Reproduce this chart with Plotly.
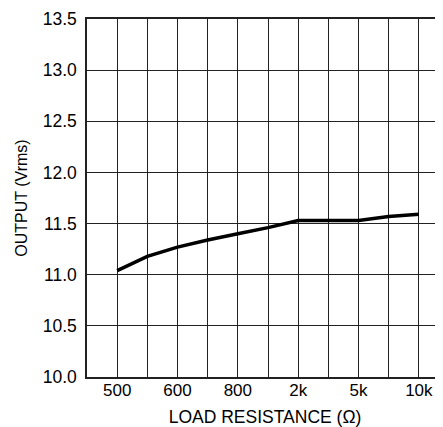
import plotly.graph_objects as go

# Data (grid positions 1..11, labels on every other grid line)
x_index = [1, 2, 3, 4, 5, 6, 7, 8, 9, 10, 11]
output_vrms = [11.04, 11.18, 11.27, 11.34, 11.40, 11.46, 11.53, 11.53, 11.53, 11.57, 11.59]
tick_positions = [0, 1, 2, 3, 4, 5, 6, 7, 8, 9, 10, 11]
tick_labels = ["", "500", "", "600", "", "800", "", "2k", "", "5k", "", "10k"]
y_ticks = [10.0, 10.5, 11.0, 11.5, 12.0, 12.5, 13.0, 13.5]

font_family = "Liberation Sans, Arial, sans-serif"

fig = go.Figure()
fig.add_trace(go.Scatter(
    x=x_index, y=output_vrms, mode="lines",
    line=dict(color="black", width=3.5),
    showlegend=False, hoverinfo="skip",
))

# page has an 8px body margin, so the figure is sized to fit the 443x427 window
fig.update_layout(
    width=435, height=419,
    margin=dict(l=79, r=0, t=11, b=50),
    paper_bgcolor="white", plot_bgcolor="white",
    font=dict(family=font_family, color="black"),
)

fig.update_xaxes(
    range=[0, 11.8], automargin=False,
    tickmode="array", tickvals=tick_positions, ticktext=tick_labels,
    showgrid=True, gridcolor="#222", gridwidth=1,
    showline=True, linecolor="#222", linewidth=1.5, mirror=True,
    ticks="", tickfont=dict(size=17), ticklabelstandoff=-3,
    zeroline=False,
    title=dict(text="LOAD RESISTANCE (Ω)", font=dict(size=17.5), standoff=17),
)
fig.update_yaxes(
    range=[10, 13.5], automargin=False,
    tickmode="array", tickvals=y_ticks, ticktext=[f"{v:.1f}" for v in y_ticks],
    showgrid=True, gridcolor="#222", gridwidth=1,
    showline=True, linecolor="#222", linewidth=1.5,
    ticks="", tickfont=dict(size=17.5), ticklabelstandoff=5,
    zeroline=False,
    title=dict(text="OUTPUT (Vrms)", font=dict(size=16), standoff=11),
)

fig.write_html("out.html")
